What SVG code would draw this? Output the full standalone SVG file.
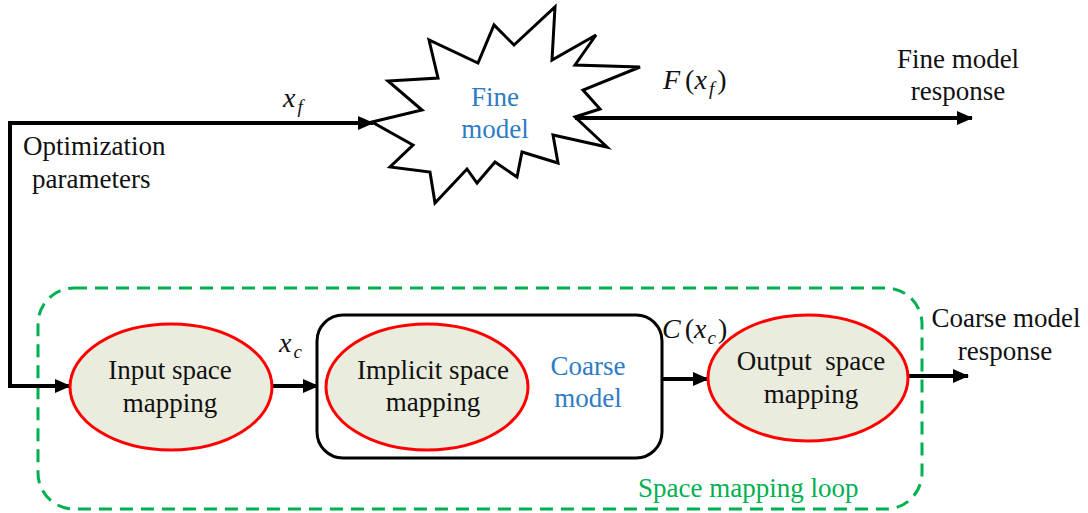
<svg xmlns="http://www.w3.org/2000/svg" width="1088" height="513" viewBox="0 0 1088 513">
<style>
.t{font-family:"Liberation Serif","Times New Roman",serif;font-size:27px;fill:#111}
.c{text-anchor:middle}
.blue{fill:#2E7CC4}
.green{fill:#00B050}
.m{font-family:"Liberation Serif","Times New Roman",serif;font-style:italic;font-size:28px;fill:#111}
.up{font-style:normal}
.sub{font-size:19px}
.ell{fill:#EAECDD;stroke:#FF0000;stroke-width:3}
.conn{fill:none;stroke:#000;stroke-width:4}
</style>
<defs>
<marker id="arr" markerUnits="userSpaceOnUse" markerWidth="16" markerHeight="14" refX="15" refY="7" orient="auto">
<path d="M0,0 L16,7 L0,14 z" fill="#000"/>
</marker>
</defs>
<rect id="loop" x="38" y="288" width="884" height="221" rx="36" ry="36" fill="none" stroke="#00B050" stroke-width="3" stroke-dasharray="13,8"/>
<g id="fine-model">
<polygon points="372,122 422,110 388,81 438,78 429,40 478,63 494,25 514,45 555,7 552,60 596,35 575,65 640,67 583,90 600,109 575,117 607,147 553,135 558,163 522,152 517,177 495,162 477,183 467,169 435,203 430,172 390,167 413,145" fill="#fff" stroke="#000" stroke-width="3" stroke-linejoin="miter"/>
<text class="t c blue" x="495" y="106">Fine</text>
<text class="t c blue" x="495" y="138">model</text>
</g>
<g id="connectors">
<polyline class="conn" points="10,123 373,123" marker-end="url(#arr)"/>
<polyline class="conn" points="10,121 10,386 70,386" marker-end="url(#arr)"/>
<line class="conn" x1="575" y1="118" x2="972" y2="118" marker-end="url(#arr)"/>
<line class="conn" x1="273" y1="386" x2="318" y2="386" marker-end="url(#arr)"/>
<line class="conn" x1="662" y1="379" x2="708" y2="379" marker-end="url(#arr)"/>
<line class="conn" x1="909" y1="376" x2="968" y2="376" marker-end="url(#arr)"/>
</g>
<g id="labels">
<text class="t" x="23" y="155">Optimization</text>
<text class="t" x="32" y="188">parameters</text>
<text class="m" x="283" y="107">x<tspan class="sub" dx="2" dy="6">f</tspan></text>
<text class="m" x="663" y="89">F<tspan class="up" dx="5">(</tspan>x<tspan class="sub" dx="2" dy="6">f</tspan><tspan class="up" dx="3" dy="-6">)</tspan></text>
<text class="t c" x="958" y="68">Fine model</text>
<text class="t c" x="958" y="100">response</text>
<text class="m" x="279" y="352">x<tspan class="sub" dx="2" dy="6">c</tspan></text>
<text class="m" x="662" y="338">C<tspan class="up" dx="4">(</tspan>x<tspan class="sub" dx="1" dy="6">c</tspan><tspan class="up" dx="2" dy="-6">)</tspan></text>
<text class="t c" x="1006" y="327">Coarse model</text>
<text class="t c" x="1005" y="360">response</text>
<text class="t green" x="638" y="497">Space mapping loop</text>
</g>
<g id="input-space-mapping">
<ellipse class="ell" cx="171" cy="387" rx="101" ry="63"/>
<text class="t c" x="170" y="379">Input space</text>
<text class="t c" x="170" y="412">mapping</text>
</g>
<g id="coarse-model">
<rect x="317" y="315" width="345" height="143" rx="26" ry="26" fill="#fff" stroke="#000" stroke-width="3"/>
<text class="t c blue" x="588" y="375">Coarse</text>
<text class="t c blue" x="588" y="407">model</text>
</g>
<g id="implicit-space-mapping">
<ellipse class="ell" cx="427" cy="387" rx="101" ry="63"/>
<text class="t c" x="433" y="379">Implicit space</text>
<text class="t c" x="433" y="411">mapping</text>
</g>
<g id="output-space-mapping">
<ellipse class="ell" cx="808" cy="378" rx="100" ry="63"/>
<text class="t c" x="811" y="370" xml:space="preserve">Output  space</text>
<text class="t c" x="811" y="403">mapping</text>
</g>
</svg>
